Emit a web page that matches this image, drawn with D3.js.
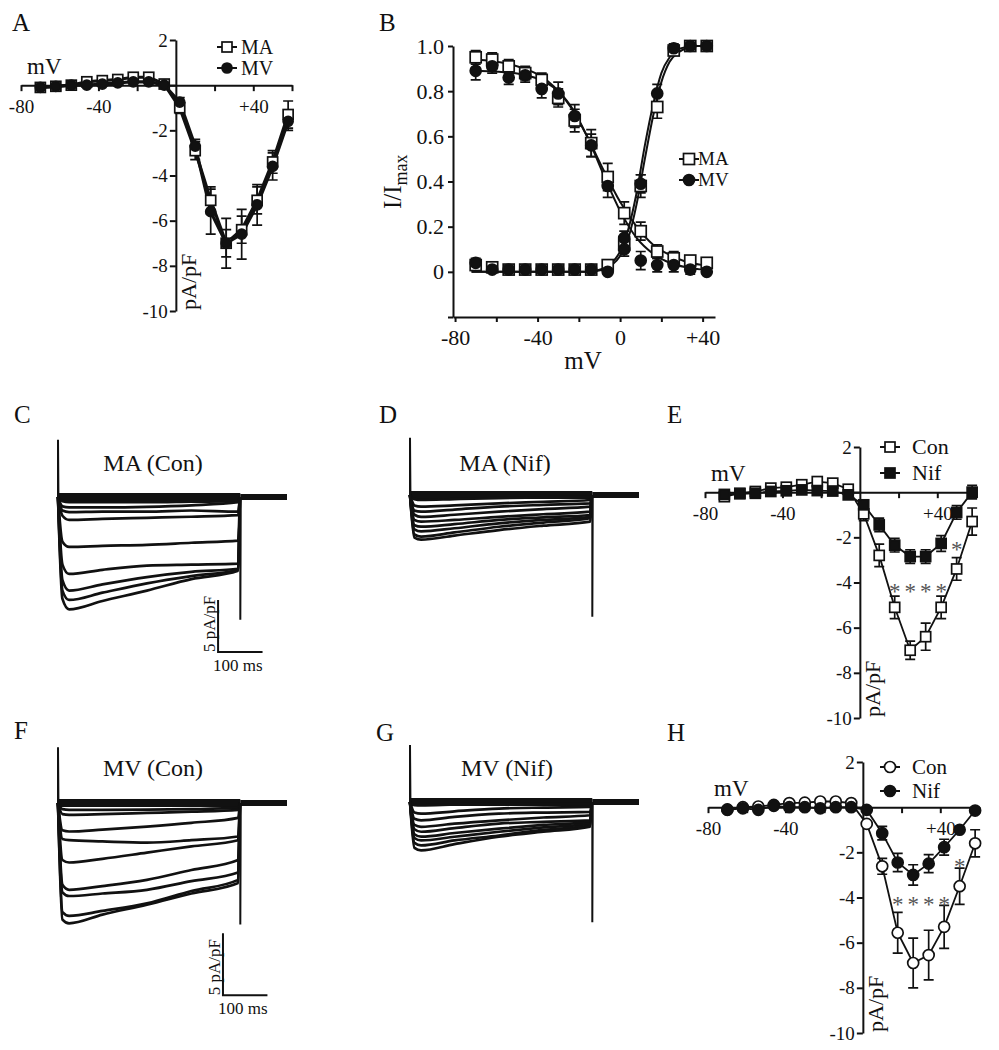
<!DOCTYPE html>
<html>
<head>
<meta charset="utf-8">
<title>Ca current figure</title>
<script src="https://cdn.jsdelivr.net/npm/d3@7/dist/d3.min.js"></script>
<style>
    html, body { margin: 0; background: #fff; }
    svg text { font-family: "Liberation Serif", "Times New Roman", serif; fill: #111; }
</style>
</head>
<body>
<svg id="fig" width="999" height="1050"></svg>
<script>
// ---------- test potentials (mV)
var volts  = [-70, -62, -54, -46, -38, -30, -22, -14, -6, 2, 10, 18, 26, 34, 42, 50, 58];
var voltsB = volts.slice(0, 15);

// ---------- A: I-V, MA vs MV (pA/pF)
var maA    = [-0.1, -0.05, 0, 0.15, 0.2, 0.25, 0.35, 0.35, 0.05, -1.0, -2.9, -5.1, -7.0, -6.4, -5.1, -3.4, -1.3];
var maAErr = [0.05, 0.05, 0.05, 0.05, 0.05, 0.05, 0.05, 0.05, 0.1, 0.25, 0.4, 0.6, 0.6, 0.6, 0.6, 0.5, 0.6];
var mvA    = [-0.1, -0.05, 0, 0, 0.05, 0.1, 0.15, 0.15, 0, -0.75, -2.7, -5.6, -7.0, -6.6, -5.3, -3.6, -1.6];
var mvAErr = [0.05, 0.05, 0.05, 0.05, 0.05, 0.05, 0.05, 0.05, 0.1, 0.2, 0.3, 1.0, 1.1, 1.1, 0.9, 0.6, 0.4];

// ---------- B: activation / inactivation (I/Imax)
var maInact    = [0.95, 0.94, 0.91, 0.88, 0.85, 0.77, 0.67, 0.57, 0.42, 0.26, 0.18, 0.09, 0.06, 0.05, 0.04];
var maInactErr = [0.03, 0.03, 0.03, 0.03, 0.03, 0.04, 0.05, 0.06, 0.06, 0.05, 0.04, 0.03, 0.03, 0.02, 0.02];
var mvInact    = [0.89, 0.91, 0.86, 0.87, 0.81, 0.79, 0.69, 0.56, 0.38, 0.10, 0.05, 0.03, 0.03, 0.01, 0.0];
var mvInactErr = [0.04, 0.03, 0.03, 0.03, 0.04, 0.05, 0.05, 0.05, 0.05, 0.03, 0.04, 0.03, 0.03, 0.02, 0.01];
var maAct      = [0.03, 0.02, 0.01, 0.01, 0.01, 0.01, 0.01, 0.01, 0.03, 0.12, 0.38, 0.73, 0.98, 1.0, 1.0];
var maActErr   = [0.02, 0.02, 0.01, 0.01, 0.01, 0.01, 0.01, 0.01, 0.02, 0.03, 0.05, 0.05, 0.02, 0.02, 0.02];
var mvAct      = [0.04, 0.01, 0.01, 0.01, 0.01, 0.01, 0.01, 0.01, 0.0, 0.15, 0.39, 0.79, 0.99, 1.0, 1.0];
var mvActErr   = [0.02, 0.01, 0.01, 0.01, 0.01, 0.01, 0.01, 0.01, 0.01, 0.03, 0.04, 0.04, 0.02, 0.02, 0.02];

// fitted curves
var fitInactV   = [-72, -64, -56, -48, -40, -32, -24, -16, -8, 0, 8, 16, 24, 32, 40, 44];
var fitMAInact  = [0.94, 0.935, 0.925, 0.905, 0.875, 0.82, 0.73, 0.60, 0.45, 0.31, 0.20, 0.12, 0.075, 0.045, 0.03, 0.025];
var fitMVInact  = [0.89, 0.888, 0.884, 0.875, 0.855, 0.815, 0.735, 0.60, 0.43, 0.27, 0.15, 0.08, 0.04, 0.02, 0.01, 0.005];
var fitActV     = [-72, -40, -16, -8, -4, 0, 4, 8, 12, 16, 20, 24, 28, 32, 36, 42];
var fitMAAct    = [0.0, 0.0, 0.0, 0.01, 0.03, 0.07, 0.15, 0.30, 0.50, 0.69, 0.84, 0.93, 0.97, 0.99, 1.0, 1.0];
var fitMVAct    = [0.0, 0.0, 0.0, 0.015, 0.04, 0.09, 0.19, 0.35, 0.56, 0.74, 0.88, 0.95, 0.985, 0.995, 1.0, 1.0];

// ---------- E: MA, control vs nifedipine (pA/pF)
var conE    = [-0.2, -0.05, 0.03, 0.18, 0.22, 0.33, 0.47, 0.4, 0.13, -0.96, -2.8, -5.1, -7.0, -6.4, -5.1, -3.4, -1.3];
var conEErr = [0.05, 0.05, 0.05, 0.05, 0.05, 0.05, 0.05, 0.05, 0.1, 0.3, 0.5, 0.5, 0.4, 0.6, 0.5, 0.5, 0.6];
var nifE    = [-0.1, -0.07, -0.05, 0.03, 0.06, 0.1, 0.07, 0.05, -0.12, -0.56, -1.45, -2.35, -2.85, -2.85, -2.27, -0.9, 0.0];
var nifEErr = [0.05, 0.05, 0.05, 0.05, 0.05, 0.05, 0.05, 0.05, 0.1, 0.2, 0.3, 0.3, 0.3, 0.3, 0.35, 0.3, 0.3];

// ---------- H: MV, control vs nifedipine (pA/pF)
var conH    = [-0.1, 0, 0.03, 0.1, 0.18, 0.2, 0.25, 0.25, 0.18, -0.74, -2.62, -5.56, -6.9, -6.55, -5.3, -3.5, -1.6];
var conHErr = [0.05, 0.05, 0.05, 0.05, 0.05, 0.05, 0.05, 0.05, 0.1, 0.1, 0.35, 0.9, 1.1, 1.1, 0.95, 0.8, 0.6];
var nifH    = [-0.12, -0.05, -0.12, 0.06, 0, 0, -0.05, 0, 0, -0.12, -1.15, -2.45, -3.0, -2.5, -1.77, -1.0, -0.15];
var nifHErr = [0.05, 0.05, 0.05, 0.05, 0.05, 0.05, 0.05, 0.05, 0.05, 0.05, 0.3, 0.4, 0.45, 0.4, 0.35, 0.1, 0.1];

// significance marks (mV, pA/pF)
var starV = [18, 26, 34, 42, 50];
var starE = [-4.2, -4.2, -4.2, -4.2, -2.35];
var starH = [-4.1, -4.1, -4.1, -4.1, -2.45];

// ---------- raw traces (ms, pA/pF)
var traceT = [10, 25, 100, 200, 300, 405];
var tracesC = [
    [-0.4, -0.5, -0.5, -0.5, -0.45, -0.4],
    [-0.9, -1.0, -1.0, -0.95, -0.8, -0.5],
    [-1.3, -1.45, -1.4, -1.4, -1.3, -1.4],
    [-1.8, -2.2, -2.1, -2.0, -1.9, -1.75],
    [-4.3, -4.8, -4.7, -4.6, -4.4, -4.2],
    [-6.5, -7.4, -7.0, -6.6, -6.5, -6.4],
    [-8.0, -9.0, -8.4, -7.7, -7.2, -6.9],
    [-9.0, -9.9, -9.2, -8.3, -7.6, -7.0],
    [-9.8, -10.8, -10.0, -9.0, -7.9, -7.1]
];
var tracesD = [
    [-0.4, -0.48, -0.4, -0.3, -0.22, -0.16],
    [-1.0, -1.12, -1.0, -0.8, -0.65, -0.48],
    [-1.5, -1.6, -1.4, -1.12, -0.95, -0.8],
    [-1.9, -2.1, -1.9, -1.6, -1.35, -1.12],
    [-2.4, -2.56, -2.4, -2.1, -1.85, -1.6],
    [-2.9, -3.05, -2.8, -2.4, -2.15, -1.92],
    [-3.3, -3.5, -3.2, -2.72, -2.4, -2.1],
    [-3.8, -4.0, -3.6, -3.05, -2.65, -2.24],
    [-4.1, -4.3, -3.9, -3.37, -2.95, -2.56]
];
var tracesF = [
    [-0.5, -0.55, -0.55, -0.54, -0.5, -0.4],
    [-0.9, -0.95, -0.9, -0.8, -0.7, -0.55],
    [-2.2, -2.3, -2.15, -1.9, -1.6, -1.2],
    [-2.9, -3.0, -3.1, -3.2, -3.0, -2.7],
    [-4.6, -4.8, -4.5, -4.0, -3.5, -3.0],
    [-6.6, -7.0, -6.7, -6.2, -5.4, -4.6],
    [-7.2, -7.5, -7.3, -7.0, -6.3, -5.6],
    [-8.8, -9.1, -8.7, -8.1, -7.1, -6.2],
    [-9.4, -9.7, -9.0, -8.2, -7.3, -6.45]
];
var tracesG = [
    [-0.25, -0.27, -0.2, -0.13, -0.13, -0.13],
    [-0.85, -0.94, -0.75, -0.53, -0.45, -0.4],
    [-1.35, -1.48, -1.2, -0.94, -0.85, -0.8],
    [-1.85, -2.0, -1.75, -1.48, -1.25, -1.07],
    [-2.2, -2.4, -2.1, -1.74, -1.6, -1.48],
    [-2.6, -2.8, -2.5, -2.15, -1.85, -1.6],
    [-2.9, -3.1, -2.8, -2.4, -2.05, -1.74],
    [-3.3, -3.5, -3.1, -2.7, -2.25, -1.88],
    [-3.7, -3.9, -3.4, -2.8, -2.4, -2.0]
];

// tick labels
var ivXTicks  = [-80, -60, -40, -20, 20, 40, 60];
var ivXLabels = {"-80": "-80", "-40": "-40", "40": "+40"};
var ivYTicks  = [2, 0, -2, -4, -6, -8, -10];
var bXTicks   = [-80, -60, -40, -20, 0, 20, 40];
var bXLabels  = {"-80": "-80", "-40": "-40", "0": "0", "40": "+40"};
var bYTicks   = [-0.2, 0, 0.2, 0.4, 0.6, 0.8, 1.0];
var bYLabels  = {"0": "0", "0.2": "0.2", "0.4": "0.4", "0.6": "0.6", "0.8": "0.8", "1": "1.0"};

var ink = "#111";
var svg = d3.select("#fig");

// ----------
function styleAxis(sel, size) {
    sel.attr("font-family", null).attr("font-size", size);
    sel.selectAll("path, line").attr("stroke", ink).attr("stroke-width", 2);
    sel.selectAll("text").attr("fill", ink);
}

function addText(g, x, y, str, size, anchor) {
    return g.append("text").attr("x", x).attr("y", y)
        .attr("font-size", size).attr("text-anchor", anchor || "start").text(str);
}

function addRotText(g, x, y, str, size) {
    return g.append("text").attr("transform", "translate(" + x + "," + y + ") rotate(-90)")
        .attr("font-size", size).text(str);
}

function drawMarker(g, cx, cy, shape, filled, size) {
    var m;
    if (shape === "square") {
        m = g.append("rect").attr("x", cx - size / 2).attr("y", cy - size / 2)
            .attr("width", size).attr("height", size);
    } else {
        m = g.append("circle").attr("cx", cx).attr("cy", cy).attr("r", size / 2);
    }
    m.attr("fill", filled ? ink : "#fff").attr("stroke", ink).attr("stroke-width", 1.7);
}

function errorBars(g, xs, vals, err, x, y, cap) {
    vals.forEach(function(v, i) {
        var cx = x(xs[i]), y1 = y(v + err[i]), y2 = y(v - err[i]);
        g.append("path")
            .attr("d", "M" + cx + "," + y1 + "V" + y2 +
                       "M" + (cx - cap / 2) + "," + y1 + "h" + cap +
                       "M" + (cx - cap / 2) + "," + y2 + "h" + cap)
            .attr("fill", "none").attr("stroke", ink).attr("stroke-width", 1.7);
    });
}

function legendRow(g, cx, cy, shape, filled, label, size, tx, fs) {
    g.append("line").attr("x1", cx - 10).attr("x2", cx + 10).attr("y1", cy).attr("y2", cy)
        .attr("stroke", ink).attr("stroke-width", 2);
    drawMarker(g, cx, cy, shape, filled, size);
    addText(g, tx, cy + fs * 0.33, label, fs);
}

// ---------- I-V panels (A, E, H)
function ivPanel(p) {
    var x = d3.scaleLinear().domain([-80, 60]).range([p.left, p.left + 271]);
    var y = d3.scaleLinear().domain([-10, 2]).range([p.top + 271, p.top]);
    var g = svg.append("g");

    g.append("g")
        .attr("transform", "translate(0," + y(0) + ")")
        .call(d3.axisBottom(x).tickValues(ivXTicks).tickSize(6).tickSizeOuter(0).tickPadding(8)
            .tickFormat(function(d) { return ivXLabels[d] || ""; }))
        .call(styleAxis, 19);

    g.append("g")
        .attr("transform", "translate(" + x(0) + ",0)")
        .call(d3.axisLeft(y).tickValues(ivYTicks).tickSize(6).tickSizeOuter(0).tickPadding(2)
            .tickFormat(function(d) { return d === 0 ? "" : String(d); }))
        .call(styleAxis, 19);

    var line = d3.line()
        .x(function(d, i) { return x(volts[i]); })
        .y(function(d) { return y(d); });

    p.series.forEach(function(s) {
        g.append("path").datum(s.vals).attr("d", line)
            .attr("fill", "none").attr("stroke", ink).attr("stroke-width", p.lw);
    });
    p.series.forEach(function(s) { errorBars(g, volts, s.vals, s.err, x, y, 10); });
    p.series.forEach(function(s) {
        s.vals.forEach(function(v, i) { drawMarker(g, x(volts[i]), y(v), s.shape, s.filled, p.ms); });
    });

    if (p.stars) {
        p.stars.forEach(function(v, i) {
            g.append("text").attr("x", x(starV[i])).attr("y", y(v) + 12)
                .attr("font-size", 23).attr("text-anchor", "middle")
                .style("fill", "#555").text("*");
        });
    }

    p.series.forEach(function(s, i) {
        legendRow(g, p.legX, p.legY[i], s.shape, s.filled, s.name, p.ms, p.legX + p.legDx, p.legFs);
    });

    addText(g, p.left + 6, y(0) - 11, "mV", 23);
    addRotText(g, x(0) + 20, p.top + 270, "pA/pF", 22);
    addText(g, p.lab[0], p.lab[1], p.label, 25);
}

ivPanel({
    label: "A", lab: [12, 31], left: 21, top: 40, lw: 3.2, ms: 10,
    legX: 227, legY: [47, 68], legDx: 14, legFs: 20,
    series: [
        {name: "MA", vals: maA, err: maAErr, shape: "square", filled: false},
        {name: "MV", vals: mvA, err: mvAErr, shape: "circle", filled: true}
    ]
});

ivPanel({
    label: "E", lab: [667, 423], left: 705, top: 447, lw: 1.8, ms: 10,
    legX: 890, legY: [447, 473], legDx: 22, legFs: 22, stars: starE,
    series: [
        {name: "Con", vals: conE, err: conEErr, shape: "square", filled: false},
        {name: "Nif", vals: nifE, err: nifEErr, shape: "square", filled: true}
    ]
});

ivPanel({
    label: "H", lab: [667, 741], left: 708, top: 762, lw: 1.8, ms: 11,
    legX: 890, legY: [767, 791], legDx: 22, legFs: 21, stars: starH,
    series: [
        {name: "Con", vals: conH, err: conHErr, shape: "circle", filled: false},
        {name: "Nif", vals: nifH, err: nifHErr, shape: "circle", filled: true}
    ]
});

// ---------- B: steady-state activation / inactivation
(function() {
    var x = d3.scaleLinear().domain([-81, 46]).range([453, 715]);
    var y = d3.scaleLinear().domain([-0.2, 1.0]).range([317, 46]);
    var g = svg.append("g");

    g.append("g")
        .attr("transform", "translate(0," + y(-0.2) + ")")
        .call(d3.axisBottom(x).tickValues(bXTicks).tickSize(5).tickSizeOuter(0).tickPadding(7)
            .tickFormat(function(d) { return bXLabels[d] || ""; }))
        .call(styleAxis, 22);

    g.append("g")
        .attr("transform", "translate(" + x(-81) + ",0)")
        .call(d3.axisLeft(y).tickValues(bYTicks).tickSize(5).tickSizeOuter(0).tickPadding(4)
            .tickFormat(function(d) { return bYLabels[String(+d.toFixed(1))] || ""; }))
        .call(styleAxis, 22);

    var fit = function(vs) {
        return d3.line().curve(d3.curveMonotoneX)
            .x(function(d, i) { return x(vs[i]); })
            .y(function(d) { return y(d); });
    };
    [[fitInactV, fitMAInact], [fitInactV, fitMVInact], [fitActV, fitMAAct], [fitActV, fitMVAct]]
        .forEach(function(f) {
            g.append("path").datum(f[1]).attr("d", fit(f[0]))
                .attr("fill", "none").attr("stroke", ink).attr("stroke-width", 2);
        });

    errorBars(g, voltsB, maInact, maInactErr, x, y, 10);
    errorBars(g, voltsB, mvInact, mvInactErr, x, y, 10);
    errorBars(g, voltsB, maAct, maActErr, x, y, 10);
    errorBars(g, voltsB, mvAct, mvActErr, x, y, 10);

    [maInact, maAct].forEach(function(vals) {
        vals.forEach(function(v, i) { drawMarker(g, x(voltsB[i]), y(v), "square", false, 11); });
    });
    [mvInact, mvAct].forEach(function(vals) {
        vals.forEach(function(v, i) { drawMarker(g, x(voltsB[i]), y(v), "circle", true, 11); });
    });

    legendRow(g, 689, 159, "square", false, "MA", 11, 698, 19);
    legendRow(g, 689, 180, "circle", true, "MV", 11, 698, 19);

    addText(g, 583, 369, "mV", 25, "middle");
    var t = g.append("text").attr("transform", "translate(401,209) rotate(-90)").attr("font-size", 25);
    t.append("tspan").text("I/I");
    t.append("tspan").attr("font-size", 18).attr("dy", 6).text("max");
    addText(g, 379, 31, "B", 25);
})();

// ---------- current traces (C, D, F, G)
function tracePanel(p) {
    var x = d3.scaleLinear().domain([0, 515]).range([p.left, p.left + 229]);
    var y = d3.scaleLinear().domain([-10, 0]).range([p.base + 10 * p.k, p.base]);
    var g = svg.append("g");
    var pulseEnd = 410;

    var straight = d3.line().x(function(d) { return x(d[0]); }).y(function(d) { return y(d[1]); });
    var smooth = d3.line().curve(d3.curveMonotoneX)
        .x(function(d) { return x(d[0]); }).y(function(d) { return y(d[1]); });

    g.append("path").datum([[0, 0], [pulseEnd, 0]]).attr("d", straight)
        .attr("fill", "none").attr("stroke", ink).attr("stroke-width", 8);
    g.append("path").datum([[pulseEnd, 0], [515, 0]]).attr("d", straight)
        .attr("fill", "none").attr("stroke", ink).attr("stroke-width", 6);

    p.traces.forEach(function(tr) {
        var pts = [[0, 0]];
        traceT.forEach(function(t, i) { pts.push([t, tr[i]]); });
        pts.push([pulseEnd - 1, 0]);
        g.append("path").datum(pts).attr("d", smooth)
            .attr("fill", "none").attr("stroke", ink).attr("stroke-width", 2.7)
            .attr("stroke-linejoin", "round");
    });

    g.append("path").datum([[0, 0], [0, p.cap], [1, 0]]).attr("d", straight)
        .attr("fill", "none").attr("stroke", ink).attr("stroke-width", 2);
    g.append("path").datum([[pulseEnd, 0], [pulseEnd, p.tail], [pulseEnd + 1, 0]]).attr("d", straight)
        .attr("fill", "none").attr("stroke", ink).attr("stroke-width", 2);

    if (p.bar) {
        var bx = x(p.bar[0]), by = y(p.bar[1]);
        g.append("path")
            .attr("d", "M" + bx + "," + y(p.bar[1] + 5) + "V" + by + "H" + x(p.bar[0] + 100))
            .attr("fill", "none").attr("stroke", ink).attr("stroke-width", 2);
        addRotText(g, bx - 3, by, "5 pA/pF", 17);
        addText(g, bx - 5, by + 19, "100 ms", 17);
    }

    addText(g, p.titleX, p.titleY, p.title, 24, "middle");
    addText(g, p.lab[0], p.lab[1], p.label, 25);
}

tracePanel({label: "C", lab: [14, 423], title: "MA (Con)", titleX: 153, titleY: 471,
    left: 58, base: 497, k: 10.4, cap: 5.5, tail: -11.8, traces: tracesC, bar: [360, -14.9]});
tracePanel({label: "D", lab: [379, 423], title: "MA (Nif)", titleX: 505, titleY: 471,
    left: 410, base: 495, k: 10.4, cap: 5.5, tail: -11.7, traces: tracesD});
tracePanel({label: "F", lab: [14, 739], title: "MV (Con)", titleX: 153, titleY: 776,
    left: 58, base: 803, k: 12.4, cap: 4.5, tail: -9.8, traces: tracesF, bar: [371, -15.5]});
tracePanel({label: "G", lab: [376, 741], title: "MV (Nif)", titleX: 507, titleY: 776,
    left: 410, base: 802, k: 12.4, cap: 4.6, tail: -9.7, traces: tracesG});
</script>
</body>
</html>
